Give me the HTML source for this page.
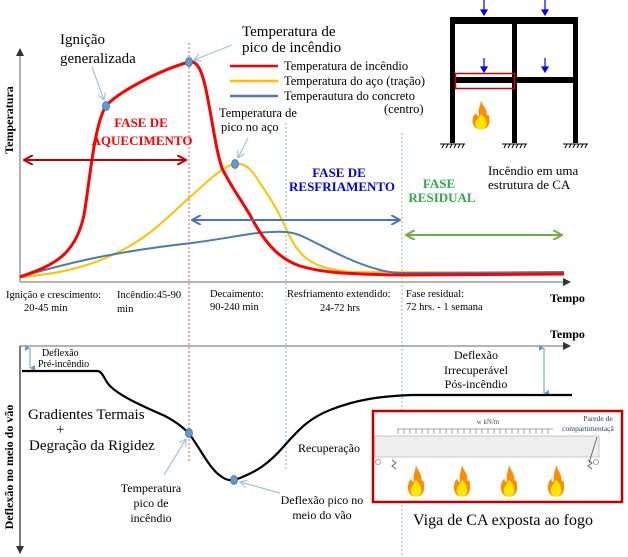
<!DOCTYPE html>
<html><head><meta charset="utf-8"><style>
html,body{margin:0;padding:0;background:#fff;}
svg{display:block;font-family:"Liberation Serif",serif;}
</style></head><body>
<svg width="628" height="557" viewBox="0 0 628 557" xmlns="http://www.w3.org/2000/svg">
<defs>
<marker id="ah" markerWidth="8" markerHeight="8" refX="7" refY="4" orient="auto" markerUnits="userSpaceOnUse"><path d="M0,0 L8,4 L0,8 z" fill="#333"/></marker>
<marker id="rA" markerWidth="10" markerHeight="10" refX="9" refY="5" orient="auto-start-reverse" markerUnits="userSpaceOnUse"><path d="M0,0 L9,5 L0,10" fill="none" stroke="#c00000" stroke-width="2"/></marker>
<marker id="bA" markerWidth="10" markerHeight="10" refX="9" refY="5" orient="auto-start-reverse" markerUnits="userSpaceOnUse"><path d="M0,0 L9,5 L0,10" fill="none" stroke="#4472c4" stroke-width="2"/></marker>
<marker id="gA" markerWidth="10" markerHeight="10" refX="9" refY="5" orient="auto-start-reverse" markerUnits="userSpaceOnUse"><path d="M0,0 L9,5 L0,10" fill="none" stroke="#70ad47" stroke-width="2"/></marker>
<marker id="lb" markerWidth="8" markerHeight="8" refX="7" refY="4" orient="auto" markerUnits="userSpaceOnUse"><path d="M0,0 L7,4 L0,8" fill="none" stroke="#9dc3e6" stroke-width="1.2"/></marker>
<marker id="sb" markerWidth="6" markerHeight="6" refX="3" refY="5" orient="auto-start-reverse" markerUnits="userSpaceOnUse"><path d="M0,0 L3,5 L6,0 z" fill="#5b9bd5"/></marker>
<g id="flame"><path d="M0,-17 C3,-10 7,-8 6,-2 C9,-4 9,2 9,4 C9,10 5,13 0,13 C-5,13 -9,10 -9,4 C-9,0 -7,-3 -5,-4 C-5,-1 -3,0 -2,-2 C-4,-7 -1,-10 0,-17z" fill="#ff8c00"/><path d="M0,-3 C4,0 6,4 6,7 C6,11 3,13 0,13 C-3,13 -6,11 -6,7 C-6,4 -3,2 0,-3z" fill="#ffe600"/></g>
</defs>

<!-- dotted verticals -->
<line x1="189" y1="43" x2="189" y2="463" stroke="#f08080" stroke-width="1.3" stroke-dasharray="2,2"/>
<line x1="286" y1="123" x2="286" y2="470" stroke="#9dc3e6" stroke-width="1.3" stroke-dasharray="2,2"/>
<line x1="402" y1="133" x2="402" y2="557" stroke="#a9d18e" stroke-width="1.3" stroke-dasharray="2,2"/>

<!-- top axes -->
<line x1="20" y1="282" x2="20" y2="49" stroke="#888" stroke-width="1.3" marker-end="url(#ah)"/>
<line x1="20" y1="282" x2="570" y2="282" stroke="#888" stroke-width="1.3" marker-end="url(#ah)"/>
<text transform="translate(13,120) rotate(-90)" font-size="12" font-weight="bold" text-anchor="middle">Temperatura</text>

<!-- curves -->
<path d="M20,277 C60,274 95,266 128,247 C155,232 175,210 190,197 C205,184 222,166 235,164 C245,162 252,170 258,180 C268,195 275,205 282,220 C290,238 296,250 306,258 C316,266 330,270 350,272 L564,273" fill="none" stroke="#ffc000" stroke-width="2"/>
<path d="M20,277 C60,265 110,252 192,243 C230,238 255,232 272,232 C288,231 296,233 306,238 C325,247 350,262 380,270 C392,273 400,273 404,273 L564,272" fill="none" stroke="#4a7ab0" stroke-width="2"/>
<path d="M20,277 C50,266 75,258 84,215 C90,180 94,125 106,106 C118,92 160,70 189,62 C198,60 203,72 208,100 C213,125 216,150 222,168 C230,185 238,195 250,215 C262,238 276,258 300,266 C320,272 340,274 400,275 L564,274" fill="none" stroke="#ff0000" stroke-width="3"/>

<!-- dots -->
<ellipse cx="106" cy="106" rx="3.5" ry="4.5" fill="#5b9bd5" stroke="#41719c" stroke-width="0.8"/>
<ellipse cx="189" cy="62" rx="3.5" ry="4.5" fill="#5b9bd5" stroke="#41719c" stroke-width="0.8"/>
<ellipse cx="235" cy="164" rx="3.5" ry="4.5" fill="#5b9bd5" stroke="#41719c" stroke-width="0.8"/>

<!-- callout arrows -->
<line x1="92" y1="67" x2="104" y2="100" stroke="#9dc3e6" stroke-width="1.2" marker-end="url(#lb)"/>
<line x1="232" y1="45" x2="194" y2="60" stroke="#9dc3e6" stroke-width="1.2" marker-end="url(#lb)"/>
<line x1="248" y1="138" x2="238" y2="158" stroke="#9dc3e6" stroke-width="1.2" marker-end="url(#lb)"/>

<!-- texts top -->
<text x="60" y="44" font-size="15">Ignição</text>
<text x="60" y="63" font-size="15">generalizada</text>
<text x="242" y="36" font-size="15">Temperatura de</text>
<text x="242" y="52" font-size="15">pico de incêndio</text>
<text x="219" y="117" font-size="12.5">Temperatura de</text>
<text x="221" y="131" font-size="12.5">pico no aço</text>

<line x1="230" y1="66" x2="278" y2="66" stroke="#ff0000" stroke-width="2.5"/>
<line x1="230" y1="81" x2="278" y2="81" stroke="#ffc000" stroke-width="2.5"/>
<line x1="230" y1="96" x2="278" y2="96" stroke="#4a7ab0" stroke-width="2.5"/>
<text x="284" y="70" font-size="12.5">Temperatura de incêndio</text>
<text x="284" y="85" font-size="12.5">Temperatura do aço (tração)</text>
<text x="284" y="100" font-size="12.5">Temperautura do concreto</text>
<text x="384" y="113" font-size="12.5">(centro)</text>

<text x="141" y="127" font-size="13" font-weight="bold" fill="#ff0000" text-anchor="middle">FASE DE</text>
<text x="142" y="145" font-size="13" font-weight="bold" fill="#ff0000" text-anchor="middle">AQUECIMENTO</text>
<text x="339" y="177" font-size="13" font-weight="bold" fill="#0000e0" text-anchor="middle">FASE DE</text>
<text x="342" y="191" font-size="13" font-weight="bold" fill="#0000e0" text-anchor="middle">RESFRIAMENTO</text>
<text x="439" y="188" font-size="13" font-weight="bold" fill="#2eaa4a" text-anchor="middle">FASE</text>
<text x="442" y="202" font-size="13" font-weight="bold" fill="#2eaa4a" text-anchor="middle">RESIDUAL</text>

<line x1="24" y1="160" x2="186" y2="160" stroke="#c00000" stroke-width="2" marker-start="url(#rA)" marker-end="url(#rA)"/>
<line x1="192" y1="220" x2="400" y2="220" stroke="#4472c4" stroke-width="2" marker-start="url(#bA)" marker-end="url(#bA)"/>
<line x1="406" y1="235" x2="562" y2="235" stroke="#70ad47" stroke-width="2" marker-start="url(#gA)" marker-end="url(#gA)"/>

<text x="488" y="175" font-size="13">Incêndio em uma</text>
<text x="488" y="189" font-size="13">estrutura de CA</text>

<!-- frame -->
<g fill="#000">
<rect x="450" y="17" width="127" height="7"/>
<rect x="450" y="17" width="5" height="126"/>
<rect x="512" y="17" width="5" height="126"/>
<rect x="573" y="17" width="5" height="126"/>
<rect x="455" y="77" width="120" height="6"/>
</g>
<rect x="455.5" y="73.5" width="59" height="15" fill="none" stroke="#d00000" stroke-width="1.5"/>
<g stroke="#0000ff" stroke-width="1.2" fill="#0000ff">
<line x1="484" y1="0" x2="484" y2="12"/><path d="M481,10 L487,10 L484,15z"/>
<line x1="545" y1="0" x2="545" y2="12"/><path d="M542,10 L548,10 L545,15z"/>
<line x1="484" y1="58" x2="484" y2="69"/><path d="M481,67 L487,67 L484,72z"/>
<line x1="545" y1="58" x2="545" y2="69"/><path d="M542,67 L548,67 L545,72z"/>
</g>
<g stroke="#000" stroke-width="1">
<line x1="440" y1="144" x2="465" y2="144"/><line x1="502" y1="144" x2="527" y2="144"/><line x1="563" y1="144" x2="588" y2="144"/>
<path d="M442,148 l2,-4 M446,148 l2,-4 M450,148 l2,-4 M454,148 l2,-4 M458,148 l2,-4 M462,148 l2,-4 M504,148 l2,-4 M508,148 l2,-4 M512,148 l2,-4 M516,148 l2,-4 M520,148 l2,-4 M524,148 l2,-4 M565,148 l2,-4 M569,148 l2,-4 M573,148 l2,-4 M577,148 l2,-4 M581,148 l2,-4 M585,148 l2,-4"/>
</g>
<use href="#flame" transform="translate(481,117) scale(0.95)"/>

<!-- bottom labels top chart -->
<g font-size="10.5">
<text x="6" y="298">Ignição e crescimento:</text>
<text x="24" y="311">20-45 min</text>
<text x="117" y="298">Incêndio:45-90</text>
<text x="117" y="312">min</text>
<text x="210" y="297">Decaimento:</text>
<text x="210" y="310">90-240 min</text>
<text x="287" y="297">Resfriamento extendido:</text>
<text x="320" y="311">24-72 hrs</text>
<text x="406" y="297">Fase residual:</text>
<text x="406" y="310">72 hrs. - 1 semana</text>
</g>
<text x="550" y="302" font-size="12" font-weight="bold">Tempo</text>

<!-- bottom chart -->
<text x="550" y="338" font-size="12" font-weight="bold">Tempo</text>
<line x1="20" y1="346" x2="570" y2="346" stroke="#888" stroke-width="1.3" marker-end="url(#ah)"/>
<line x1="20" y1="346" x2="20" y2="553" stroke="#333" stroke-width="1.3" marker-end="url(#ah)"/>
<text transform="translate(13,467) rotate(-90)" font-size="12" font-weight="bold" text-anchor="middle">Deflexão no meio do vão</text>
<line x1="30" y1="348" x2="30" y2="368" stroke="#5b9bd5" stroke-width="1" marker-start="url(#sb)" marker-end="url(#sb)"/>
<text x="42" y="356" font-size="10">Deflexão</text>
<text x="38" y="367" font-size="10">Pré-incêndio</text>
<line x1="544" y1="348" x2="544" y2="393" stroke="#5b9bd5" stroke-width="1" marker-start="url(#sb)" marker-end="url(#sb)"/>
<text x="476" y="359" font-size="12" text-anchor="middle">Deflexão</text>
<text x="476" y="374" font-size="12" text-anchor="middle">Irrecuperável</text>
<text x="476" y="388" font-size="12" text-anchor="middle">Pós-incêndio</text>

<path d="M22,371 L97,371 C103,371 104,380 110,386 C120,396 140,405 165,416 C180,424 186,430 190,435 C200,448 210,470 222,477 C228,481 232,481 240,478 C255,472 268,465 285,445 C300,428 310,418 330,410 C355,400 380,396 412,395 L572,395" fill="none" stroke="#000" stroke-width="2.2"/>
<ellipse cx="189" cy="433" rx="3.5" ry="4.5" fill="#5b9bd5" stroke="#41719c" stroke-width="0.8"/>
<ellipse cx="234" cy="480" rx="3.5" ry="4.5" fill="#5b9bd5" stroke="#41719c" stroke-width="0.8"/>
<line x1="164" y1="475" x2="186" y2="439" stroke="#9dc3e6" stroke-width="1.2" marker-end="url(#lb)"/>
<line x1="280" y1="493" x2="240" y2="482" stroke="#9dc3e6" stroke-width="1.2" marker-end="url(#lb)"/>

<text x="28" y="419" font-size="15">Gradientes Termais</text>
<text x="56" y="434" font-size="15">+</text>
<text x="29" y="450" font-size="15">Degração da Rigidez</text>
<text x="298" y="452" font-size="12">Recuperação</text>
<text x="151" y="492" font-size="12" text-anchor="middle">Temperatura</text>
<text x="151" y="507" font-size="12" text-anchor="middle">pico de</text>
<text x="151" y="522" font-size="12" text-anchor="middle">incêndio</text>
<text x="322" y="504" font-size="12" text-anchor="middle">Deflexão pico no</text>
<text x="322" y="519" font-size="12" text-anchor="middle">meio do vão</text>

<!-- beam box -->
<rect x="373" y="411" width="249" height="91" fill="#fff" stroke="#c00000" stroke-width="2.5"/>
<rect x="375" y="436" width="224" height="21" fill="#eeeeee" stroke="#bbb" stroke-width="0.8"/>
<line x1="397" y1="429" x2="553" y2="429" stroke="#888" stroke-width="0.8"/>
<path d="M398,429 v5 M404,429 v5 M410,429 v5 M416,429 v5 M422,429 v5 M428,429 v5 M434,429 v5 M440,429 v5 M446,429 v5 M452,429 v5 M458,429 v5 M464,429 v5 M470,429 v5 M476,429 v5 M482,429 v5 M488,429 v5 M494,429 v5 M500,429 v5 M506,429 v5 M512,429 v5 M518,429 v5 M524,429 v5 M530,429 v5 M536,429 v5 M542,429 v5 M548,429 v5" stroke="#888" stroke-width="0.8"/>
<text x="488" y="424" font-size="7" text-anchor="middle" fill="#555">w kN/m</text>
<text x="598" y="421" font-size="7.5" text-anchor="middle" fill="#1f3a6e">Parede de</text>
<text x="588" y="431" font-size="7.5" text-anchor="middle" fill="#1f3a6e">compartimentaçã</text>
<line x1="597" y1="437" x2="589" y2="463" stroke="#555" stroke-width="0.8"/>
<path d="M392,460 l4,3 l-4,3 l4,3 M588,460 l4,3 l-4,3 l4,3" fill="none" stroke="#666" stroke-width="1"/>
<circle cx="596" cy="462" r="2.5" fill="none" stroke="#888" stroke-width="0.8"/>
<circle cx="378" cy="462" r="2.5" fill="none" stroke="#888" stroke-width="0.8"/>
<use href="#flame" transform="translate(416,483) scale(0.9,1.05)"/>
<use href="#flame" transform="translate(462,483) scale(0.9,1.05)"/>
<use href="#flame" transform="translate(509,483) scale(0.9,1.05)"/>
<use href="#flame" transform="translate(556,483) scale(0.9,1.05)"/>
<text x="503" y="525" font-size="16" text-anchor="middle">Viga de CA exposta ao fogo</text>
</svg>
</body></html>
